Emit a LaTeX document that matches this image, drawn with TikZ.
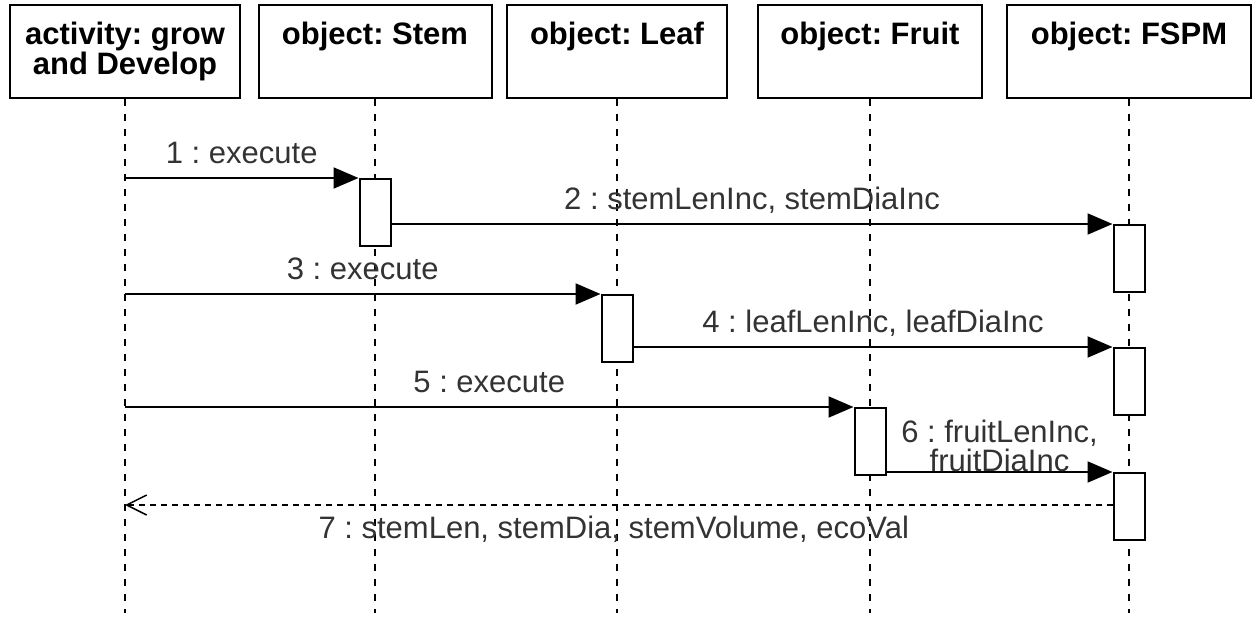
\documentclass[tikz,border=0pt]{standalone}
\usepackage{fontspec}
\setmainfont{Liberation Sans}
\usetikzlibrary{arrows.meta,positioning}

\newcommand{\seqfont}{\fontsize{31}{29}\selectfont}
\tikzset{
  hdbox/.style={draw, line width=2pt, minimum height=93, inner sep=0pt},
  hdlabel/.style={anchor=north, font=\seqfont\bfseries, align=center, inner sep=0pt, yshift=-18pt},
  lifeline/.style={line width=2pt, dash pattern=on 7pt off 8pt},
  actbox/.style={draw, fill=white, line width=2pt, minimum width=31, minimum height=67, inner sep=0pt, anchor=north},
  msg/.style={line width=2pt, -{Triangle[length=25pt,width=21pt]}},
  reply/.style={line width=2pt, dash pattern=on 6pt off 5pt, -{Straight Barb[length=20pt,width=20pt,line width=1.5pt]}},
  msglabel/.style={anchor=base, inner sep=0pt, text=black!80, yshift=14pt}
}

\begin{document}
\frenchspacing
\begin{tikzpicture}[x=1pt, y=-1pt, font=\seqfont]
\useasboundingbox (0,0) rectangle (1253,617);

% object heads
\node[hdbox, minimum width=230, label={[hdlabel]north:{activity: grow\\and Develop}}] (act) at (125,51.5) {};
\node[hdbox, minimum width=233, label={[hdlabel]north:{object: Stem}}] (stem) at (375,51.5) {};
\node[hdbox, minimum width=220, label={[hdlabel]north:{object: Leaf}}] (leaf) at (617,51.5) {};
\node[hdbox, minimum width=224, label={[hdlabel]north:{object: Fruit}}] (fruit) at (870,51.5) {};
\node[hdbox, minimum width=244, label={[hdlabel]north:{object: FSPM}}] (fspm) at (1129,51.5) {};

% lifelines
\foreach \obj in {act,stem,leaf,fruit,fspm}{
  \coordinate (\obj End) at (\obj.south |- 0,613);
  \draw[lifeline] (\obj.south) -- (\obj End);
}

% activations
\node[actbox] (stemA) at (stem.south |- 0,178) {};
\node[actbox] (fspmA) at (fspm.south |- 0,224) {};
\node[actbox] (leafA) at (leaf.south |- 0,294) {};
\node[actbox] (fspmB) at (fspm.south |- 0,347) {};
\node[actbox] (fruitA) at (fruit.south |- 0,407) {};
\node[actbox] (fspmC) at (fspm.south |- 0,472) {};

% messages
\draw[msg] (act.south |- stemA.north) -- (stemA.north west)
  node[msglabel, midway] {1 : execute};
\draw[msg] (stemA.east |- fspmA.north) -- (fspmA.north west)
  node[msglabel, midway] {2 : stemLenInc, stemDiaInc};
\draw[msg] (act.south |- leafA.north) -- (leafA.north west)
  node[msglabel, midway] {3 : execute};
\draw[msg] (leafA.east |- fspmB.north) -- (fspmB.north west)
  node[msglabel, midway] {4 : leafLenInc, leafDiaInc};
\draw[msg] (act.south |- fruitA.north) -- (fruitA.north west)
  node[msglabel, midway] {5 : execute};
\draw[msg] (fruitA.east |- fspmC.north) -- (fspmC.north west)
  node[msglabel, midway, anchor=south, align=center, yshift=-15pt] {6 : fruitLenInc,\\fruitDiaInc};

% reply
\coordinate (ret) at (act.south |- 0,505);
\draw[reply] (fspmC.west |- ret) -- (ret)
  node[msglabel, midway, yshift=-47pt, xshift=-5pt] {7 : stemLen, stemDia, stemVolume, ecoVal};
\end{tikzpicture}
\end{document}
